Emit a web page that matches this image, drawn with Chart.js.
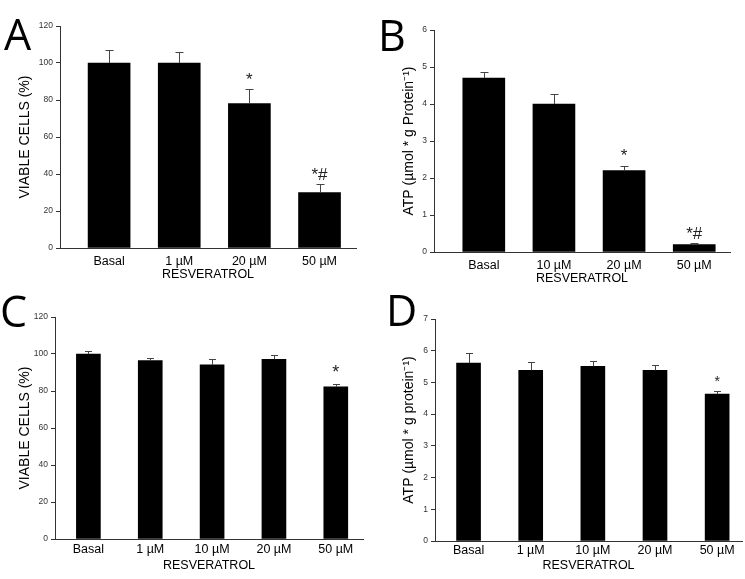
<!DOCTYPE html>
<html>
<head>
<meta charset="utf-8">
<script src="https://cdn.jsdelivr.net/npm/chart.js@4"></script>
<style>
  body { margin: 0; background: #fff; }
  #wrap { position: relative; width: 745px; height: 579px; overflow: hidden; }
  canvas { position: absolute; }
  .letter { position: absolute; font-family: "Open Sans", sans-serif; font-size: 43px; line-height: 43px; color: #000; }
</style>
</head>
<body>
<div id="wrap">
  <canvas id="cA" width="372" height="290" style="left:0;top:0"></canvas>
  <canvas id="cB" width="373" height="290" style="left:372px;top:0"></canvas>
  <canvas id="cC" width="372" height="289" style="left:0;top:290px"></canvas>
  <canvas id="cD" width="373" height="289" style="left:372px;top:290px"></canvas>
  <div class="letter" style="left:4px;top:12px">A</div>
  <div class="letter" style="left:378px;top:13px">B</div>
  <div class="letter" style="left:0px;top:289px">C</div>
  <div class="letter" style="left:386px;top:288px">D</div>
</div>
<script>
// panel A: viability
const catsA = ["Basal", "1 µM", "20 µM", "50 µM"];
const viableA = [100, 100, 78, 30];
const viableErrA = [7, 6, 8, 4.6];
const marksA = ["", "", "*", "*#"];

// panel B: ATP
const catsB = ["Basal", "10 µM", "20 µM", "50 µM"];
const atpB = [4.7, 4.0, 2.2, 0.2];
const atpErrB = [0.17, 0.27, 0.13, 0.03];
const marksB = ["", "", "*", "*#"];

// panels C and D
const catsCD = ["Basal", "1 µM", "10 µM", "20 µM", "50 µM"];
const viableC = [100, 96.4, 94.2, 97.1, 82.3];
const viableErrC = [1.4, 1.4, 3.2, 2.5, 1.4];
const marksC = ["", "", "", "", "*"];
const atpD = [5.61, 5.38, 5.51, 5.38, 4.63];
const atpErrD = [0.33, 0.27, 0.15, 0.17, 0.09];
const marksD = ["", "", "", "", "*"];

const yTicksA = { min: 0, max: 120, step: 20 };
const yTicksB = { min: 0, max: 6, step: 1 };
const yTicksC = { min: 0, max: 120, step: 20 };
const yTicksD = { min: 0, max: 7, step: 1 };

const FONT = "'Liberation Sans', Arial, sans-serif";

// error caps + significance marks, drawn through the chart's own y scale
const errPlugin = {
  id: "errbars",
  afterDatasetsDraw(chart, args, o) {
    const { ctx } = chart;
    const ys = chart.scales.y;
    const meta = chart.getDatasetMeta(0);
    ctx.save();
    meta.data.forEach((bar, i) => {
      const top = ys.getPixelForValue(o.vals[i] + o.errs[i]);
      const x = Math.round(bar.x) + 0.5;
      ctx.strokeStyle = "#444";
      ctx.lineWidth = 1;
      ctx.beginPath();
      ctx.moveTo(x, bar.y);
      ctx.lineTo(x, Math.round(top) + 0.5);
      ctx.moveTo(x - o.cap, Math.round(top) + 0.5);
      ctx.lineTo(x + o.cap, Math.round(top) + 0.5);
      ctx.stroke();
      if (o.marks[i]) {
        ctx.fillStyle = "#222";
        ctx.font = `${o.markSize}px ${FONT}`;
        ctx.textAlign = "center";
        ctx.textBaseline = "middle";
        ctx.fillText(o.marks[i], bar.x, top - o.markGap);
      }
    });
    ctx.restore();
  }
};

function panel(id, cats, vals, errs, marks, yt, yTitle, g) {
  const el = document.getElementById(id);
  return new Chart(el, {
    type: "bar",
    data: {
      datasets: [{
        data: vals.map((v, i) => ({ x: i + 1, y: v })),
        backgroundColor: "#000",
        borderWidth: 0,
        barThickness: g.bar
      }]
    },
    options: {
      responsive: false,
      animation: false,
      layout: { padding: { left: 0, top: g.top, right: el.width - g.right, bottom: 0 } },
      plugins: {
        legend: { display: false },
        tooltip: { enabled: false },
        errbars: { vals, errs, marks, cap: g.cap, markSize: g.markSize, markGap: g.markGap }
      },
      scales: {
        x: {
          type: "linear",
          offset: false,
          min: g.xmin,
          max: g.xmax,
          afterBuildTicks: s => { s.ticks = cats.map((c, i) => ({ value: i + 1 })); },
          afterFit: s => { s.height = el.height - g.bottom; },
          grid: { display: false, drawTicks: false },
          border: { display: true, color: "#333", width: 1 },
          ticks: {
            autoSkip: false, maxRotation: 0, padding: g.xPad,
            color: "#000", font: { family: FONT, size: 12.5 },
            callback: v => cats[v - 1]
          },
          title: {
            display: true, text: "RESVERATROL", color: "#000",
            font: { family: FONT, size: 12.5 },
            padding: { top: 0, bottom: g.titleBottom }
          }
        },
        y: {
          min: yt.min,
          max: yt.max,
          afterFit: s => { s.width = g.left; },
          grid: { display: true, drawOnChartArea: false, drawTicks: true, tickLength: 4, color: "#333" },
          border: { display: true, color: "#333", width: 1 },
          ticks: { stepSize: yt.step, padding: 3, color: "#333", font: { family: FONT, size: 8.5 } },
          title: {
            display: true, text: yTitle, color: "#000",
            font: { family: FONT, size: 14 },
            padding: { top: g.yTitlePad, bottom: 0 }
          }
        }
      }
    },
    plugins: [errPlugin]
  });
}

panel("cA", catsA, viableA, viableErrA, marksA, yTicksA, "VIABLE CELLS (%)",
  { left: 60, top: 26, right: 356, bottom: 248, xmin: 0.3, xmax: 4.52, bar: 42, cap: 4,
    xPad: 6, titleBottom: 8, yTitlePad: 16.5, markSize: 17, markGap: 9 });
panel("cB", catsB, atpB, atpErrB, marksB, yTicksB, "ATP (µmol * g Protein⁻¹)",
  { left: 62, top: 30, right: 358, bottom: 252, xmin: 0.29, xmax: 4.51, bar: 42, cap: 4,
    xPad: 6, titleBottom: 3.5, yTitlePad: 29, markSize: 17, markGap: 9 });
panel("cC", catsCD, viableC, viableErrC, marksC, yTicksC, "VIABLE CELLS (%)",
  { left: 55, top: 27, right: 363, bottom: 249, xmin: 0.46, xmax: 5.44, bar: 24, cap: 3.5,
    xPad: 3, titleBottom: 6, yTitlePad: 16.5, markSize: 18, markGap: 11 });
panel("cD", catsCD, atpD, atpErrD, marksD, yTicksD, "ATP (µmol * g protein⁻¹)",
  { left: 63, top: 29, right: 370, bottom: 251, xmin: 0.46, xmax: 5.4, bar: 24, cap: 3.5,
    xPad: 2.5, titleBottom: 5.5, yTitlePad: 29, markSize: 14, markGap: 9 });
</script>
</body>
</html>
